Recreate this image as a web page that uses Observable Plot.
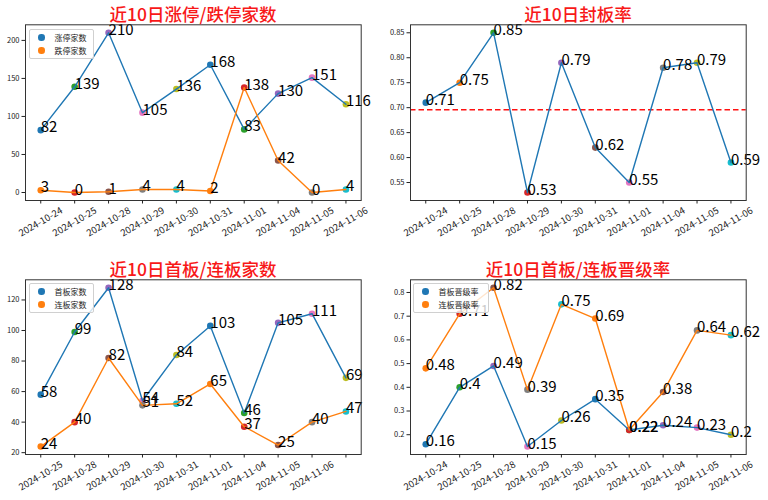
<!DOCTYPE html>
<html><head><meta charset="utf-8">
<script src="https://cdn.jsdelivr.net/npm/d3@7"></script>
<script src="https://cdn.jsdelivr.net/npm/@observablehq/plot@0.6"></script>
<style>
body{margin:0;background:#fff;font-family:"Noto Sans CJK SC",sans-serif;}
#root{position:relative;width:768px;height:500px;overflow:hidden;background:#fff;}
.panel{position:absolute;width:384px;height:250px;}
.title{position:absolute;color:#f81818;font-size:17.5px;font-weight:500;transform:translate(-50%,-50%);white-space:nowrap;line-height:1;}
.legend{position:absolute;background:rgba(255,255,255,0.8);border:1px solid #d0d0d0;border-radius:2px;font-size:8px;color:#222;padding:1px 6px 1px 8px;box-sizing:border-box;}
.legend .row{display:flex;align-items:center;height:13px;}
.legend .sw{width:6.5px;height:6.5px;border-radius:50%;margin-right:10px;}
</style>
</head><body>
<div id="root"></div>
<script>
// ---- data ----
const dates = ["2024-10-24","2024-10-25","2024-10-28","2024-10-29","2024-10-30","2024-10-31","2024-11-01","2024-11-04","2024-11-05","2024-11-06"];
const panel3TickLabels = ["2024-10-25","2024-10-28","2024-10-29","2024-10-30","2024-10-31","2024-11-01","2024-11-04","2024-11-05","2024-11-06"];
const limitUp   = [82,139,210,105,136,168,83,130,151,116];
const limitDown = [3,0,1,4,4,2,138,42,0,4];
const sealRate  = [0.71,0.75,0.85,0.53,0.79,0.62,0.55,0.78,0.79,0.59];
const sealRateMean = [0.696];
const firstBoard = [58,99,128,54,84,103,46,105,111,69];
const multiBoard = [24,40,82,51,52,65,37,25,40,47];
const firstRate = [0.16,0.4,0.49,0.15,0.26,0.35,0.22,0.24,0.23,0.2];
const multiRate = [0.48,0.71,0.82,0.39,0.75,0.69,0.22,0.38,0.64,0.62];
const titles = ["近10日涨停/跌停家数","近10日封板率","近10日首板/连板家数","近10日首板/连板晋级率"];
const legend1 = ["涨停家数","跌停家数"];
const legend3 = ["首板家数","连板家数"];
const legend4 = ["首板晋级率","连板晋级率"];
const yTicks1 = [0,50,100,150,200];
const yTicks2 = [0.55,0.60,0.65,0.70,0.75,0.80,0.85];
const yTicks3 = [20,40,60,80,100,120];
const yTicks4 = [0.2,0.3,0.4,0.5,0.6,0.7,0.8];

// ---- styling ----
const tab10 = ["#1f77b4","#ff7f0e","#2ca02c","#d62728","#9467bd","#8c564b","#e377c2","#7f7f7f","#bcbd22","#17becf"];
const lineColors = ["#1f77b4","#ff7f0e"];
const FONT = '"Noto Sans CJK SC", sans-serif';
const root = document.getElementById("root");

function makePanel({left, top, margins, series, tickLabels, yTicks, yFmt, colorOf, extra = []}) {
  const idx = d3.range(dates.length);
  const all = series.flat();
  const [lo, hi] = d3.extent(all);
  const pad = (hi - lo) * 0.05;
  const marks = [];
  series.forEach((vals, k) => {
    marks.push(Plot.dot(idx, {x: i => i, y: i => vals[i], r: 3.3, fill: i => colorOf(k, i), stroke: "none"}));
  });
  marks.push(...extra);
  series.forEach((vals, k) => {
    marks.push(Plot.line(idx, {x: i => i, y: i => vals[i], stroke: lineColors[k], strokeWidth: 1.4}));
  });
  series.forEach((vals) => {
    marks.push(Plot.text(idx, {x: i => i, y: i => vals[i], text: i => String(vals[i]), textAnchor: "start", lineAnchor: "bottom", dy: 2, fontSize: 15, fill: "#000", fontFamily: FONT}));
  });
  marks.push(Plot.frame({stroke: "#333", strokeWidth: 1}));
  marks.push(Plot.axisY({ticks: yTicks, tickFormat: yFmt, tickSize: 3.5, tickPadding: 2.5, fontSize: 7.5, label: null, fill: "#222", stroke: "#222"}));
  marks.push(Plot.axisX({ticks: idx, tickFormat: i => tickLabels[i] ?? "", tickRotate: -30, textAnchor: "middle", lineAnchor: "middle", tickSize: 3.5, tickPadding: 18, fontSize: 9.5, label: null, fill: "#222", stroke: "#222"}));
  const chart = Plot.plot({
    width: 384, height: 250,
    marginLeft: margins[0], marginRight: margins[1], marginTop: margins[2], marginBottom: margins[3],
    style: {fontFamily: FONT, background: "transparent", overflow: "visible"},
    x: {type: "linear", domain: [-0.45, dates.length - 1 + 0.45]},
    y: {domain: [lo - pad, hi + pad]},
    color: {type: "identity"},
    marks
  });
  const wrap = document.createElement("div");
  wrap.className = "panel";
  wrap.style.left = left + "px"; wrap.style.top = top + "px";
  wrap.appendChild(chart);
  root.appendChild(wrap);
}

function addTitle(text, cx, cy) {
  const d = document.createElement("div");
  d.className = "title"; d.textContent = text;
  d.style.left = cx + "px"; d.style.top = cy + "px";
  root.appendChild(d);
}
function addLegend(labels, x, y, w) {
  const d = document.createElement("div");
  d.className = "legend";
  d.style.left = x + "px"; d.style.top = y + "px"; d.style.width = w + "px";
  labels.forEach((t, k) => {
    const r = document.createElement("div"); r.className = "row";
    const s = document.createElement("div"); s.className = "sw"; s.style.background = lineColors[k];
    const tx = document.createElement("span"); tx.textContent = t;
    r.appendChild(s); r.appendChild(tx); d.appendChild(r);
  });
  root.appendChild(d);
}

const pairColor = (k, i) => tab10[(2 * i + k) % 10];
const seqColor = (k, i) => tab10[i % 10];
const fmt2 = d3.format(".2f"), fmt1 = d3.format(".1f");

makePanel({left: 0, top: 0, margins: [25, 23.3, 24.3, 50], series: [limitUp, limitDown], tickLabels: dates, yTicks: yTicks1, yFmt: d => d, colorOf: pairColor});
makePanel({left: 384, top: 0, margins: [26, 22.3, 24.3, 50], series: [sealRate], tickLabels: dates, yTicks: yTicks2, yFmt: fmt2, colorOf: seqColor,
  extra: [Plot.ruleY(sealRateMean, {stroke: "#ff1010", strokeWidth: 1.5, strokeDasharray: "5.5,3"})]});
makePanel({left: 0, top: 250, margins: [25, 23.3, 29.3, 46], series: [firstBoard, multiBoard], tickLabels: panel3TickLabels, yTicks: yTicks3, yFmt: d => d, colorOf: pairColor});
makePanel({left: 384, top: 250, margins: [26, 22.3, 29.3, 46], series: [firstRate, multiRate], tickLabels: dates, yTicks: yTicks4, yFmt: fmt1, colorOf: pairColor});

addTitle(titles[0], 193, 14);
addTitle(titles[1], 578, 14);
addTitle(titles[2], 193, 269);
addTitle(titles[3], 578, 269);
addLegend(legend1, 29, 29, 65);
addLegend(legend3, 29, 283, 65);
addLegend(legend4, 413, 283, 76);
</script>
</body></html>
